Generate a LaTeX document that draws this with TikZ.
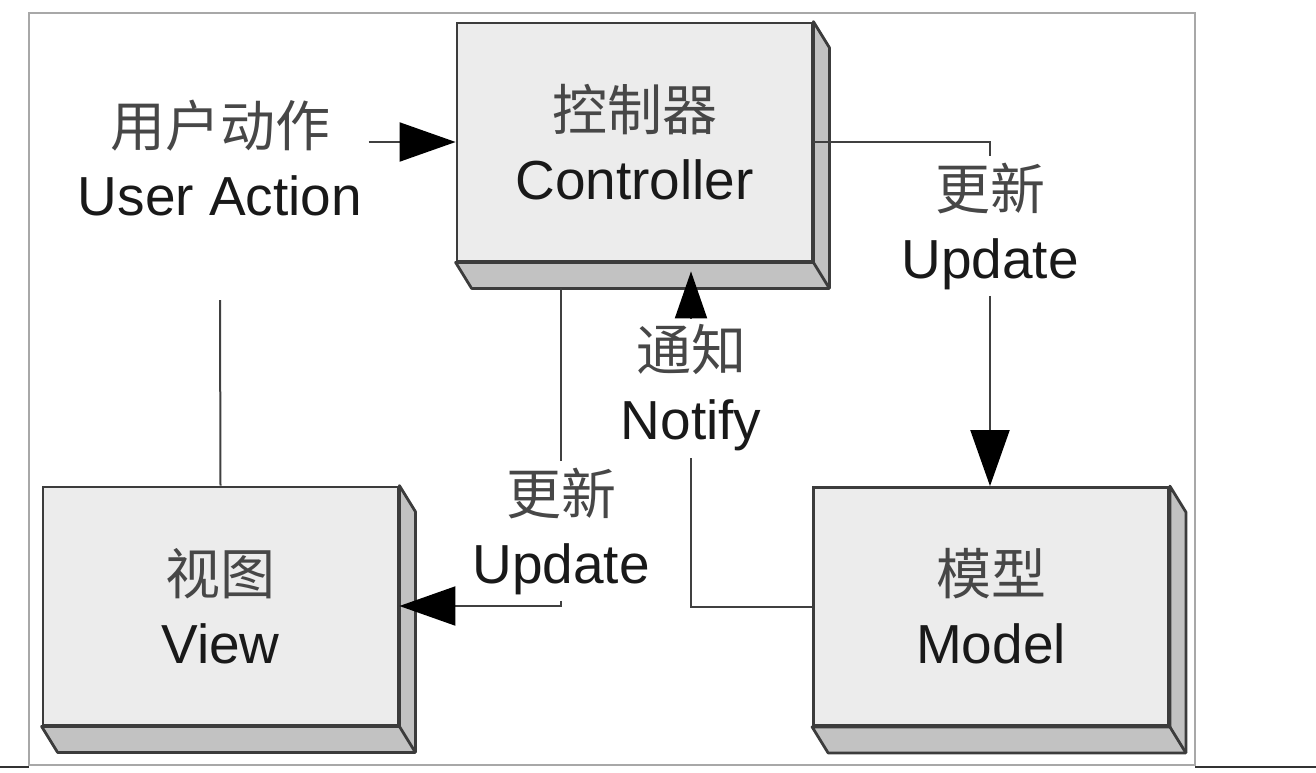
\documentclass[tikz,border=0pt]{standalone}
\usepackage{fontspec}
\setmainfont{Liberation Sans}
\newfontfamily\cjk{Noto Sans CJK SC}
\usepackage{tikz}
\usetikzlibrary{arrows.meta}
\definecolor{facegray}{HTML}{ECECEC}
\definecolor{sidegray}{HTML}{C2C2C2}
\definecolor{edgegray}{HTML}{3C3C3C}
\definecolor{linegray}{HTML}{404040}
\definecolor{framegray}{HTML}{A8A8A8}
\newcommand{\zh}[1]{{\cjk\color{black!72}#1}}

\begin{document}
\begin{tikzpicture}[x=0.5pt,y=-0.5pt,
	font=\fontsize{27.5}{34.5}\selectfont,
	mvc/.style={draw=edgegray,line width=1.4pt,fill=facegray,minimum width=177.5pt,minimum height=119pt,align=center,text=black!90},
	lbl/.style={align=center,inner sep=3pt,text=black!90},
	link/.style={draw=linegray,line width=1pt},
	bigtip/.tip={Triangle[length=28pt,width=19.5pt,color=black]},
	smalltip/.tip={Triangle[length=23.5pt,width=16pt,color=black]}]
		\useasboundingbox (0,0) rectangle (1316,772);
		\draw[framegray,line width=0.6pt] (29,13) rectangle (1195,765);
		\draw[black!80,line width=1pt] (0,767) -- (29,767) (1195,767) -- (1316,767);
		\node[mvc] (ctrl) at (634.5,142) {\zh{控制器}\\Controller};
		\node[mvc] (view) at (220.5,606) {\zh{视图}\\View};
		\node[mvc] (model) at (991,606.5) {\zh{模型}\\Model};
		\foreach \b in {ctrl,view,model}{
			\filldraw[fill=sidegray,draw=edgegray,line width=1.4pt,line join=round] (\b.north east) -- ++(16,26)
			|- ([shift={(16,26)}]\b.south west) -- (\b.south west) -- (\b.south east) -- cycle;
			\draw[edgegray,line width=1.4pt] (\b.south east) -- ++(16,26);
		}
		\node[lbl] (act) at (220,158) {\zh{用户动作}\\User Action};
		\node[lbl] (upd1) at (990,226) {\zh{更新}\\Update};
		\node[lbl] (upd2) at (561,531) {\zh{更新}\\Update};
		\node[lbl] (notify) at (691,388) {\zh{通知}\\Notify};
		\coordinate (actfoot) at (220,300);
		\draw[link] (actfoot) -- (view.north);
		\draw[link,-bigtip] (act.east |- ctrl.west) -- (ctrl.west);
		\draw[link] (ctrl.east) -| (upd1.north);
		\draw[link,-bigtip] (upd1.south) -- (upd1.south |- model.north);
		\draw[link,shorten >=13pt] (upd2.north) -- (upd2.north |- ctrl.south);
		\draw[link,-bigtip] (upd2.south) |- (view.east);
		\draw[link] (model.west) -| (notify.south);
		\draw[link,-smalltip,shorten >=4.5pt] (notify.north) -- (notify.north |- ctrl.south);
	\end{tikzpicture}
\end{document}
